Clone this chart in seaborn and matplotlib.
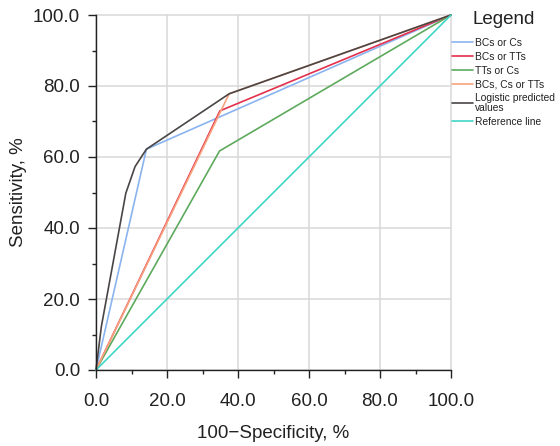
import numpy as np
import pandas as pd
import matplotlib
matplotlib.use("Agg")
import matplotlib.pyplot as plt
from matplotlib.ticker import MultipleLocator, FormatStrFormatter
import seaborn as sns

# ---- data ----
series_names = ["BCs or Cs", "BCs or TTs", "TTs or Cs", "BCs, Cs or TTs",
                "Logistic predicted\nvalues", "Reference line"]

fpr_bcs_cs = [0, 14.2, 100]
tpr_bcs_cs = [0, 62.2, 100]
fpr_bcs_tts = [0, 34.9, 100]
tpr_bcs_tts = [0, 73.0, 100]
fpr_tts_cs = [0, 34.8, 100]
tpr_tts_cs = [0, 61.7, 100]
fpr_all = [0, 37.5, 100]
tpr_all = [0, 77.8, 100]
fpr_logit = [0, 1.5, 8.4, 11.0, 14.2, 37.5, 100]
tpr_logit = [0, 12.2, 49.8, 57.3, 62.2, 77.8, 100]
fpr_ref = [0, 100]
tpr_ref = [0, 100]

colors = ["#8ab4ef", "#e3304c", "#5daa5d", "#f8a27e", "#4a4646", "#3fd6c6"]

xy = [(fpr_bcs_cs, tpr_bcs_cs), (fpr_bcs_tts, tpr_bcs_tts), (fpr_tts_cs, tpr_tts_cs),
      (fpr_all, tpr_all), (fpr_logit, tpr_logit), (fpr_ref, tpr_ref)]

rows = []
for name, (xs, ys) in zip(series_names, xy):
    for order, (a, b) in enumerate(zip(xs, ys)):
        rows.append({"fpr": a, "tpr": b, "series": name, "order": order})
df = pd.DataFrame(rows)

sns.set_style("white")
plt.rcParams["font.family"] = ["Liberation Sans", "DejaVu Sans"]
plt.rcParams["text.color"] = "#222222"
plt.rcParams["axes.labelcolor"] = "#222222"
plt.rcParams["xtick.color"] = "#222222"
plt.rcParams["ytick.color"] = "#222222"

fig = plt.figure(figsize=(5.6, 4.46), dpi=100)
ax = fig.add_axes([96 / 560, 1 - 370 / 446, 355 / 560, 355 / 446])

sns.lineplot(data=df, x="fpr", y="tpr", hue="series", hue_order=series_names,
             palette=colors, sort=False, estimator=None, units="series",
             linewidth=1.2, ax=ax, legend=True)

for ln in ax.get_lines():
    ln.set_clip_on(False)

ax.set_xlim(0, 100)
ax.set_ylim(0, 100)
ax.xaxis.set_major_locator(MultipleLocator(20))
ax.yaxis.set_major_locator(MultipleLocator(20))
ax.xaxis.set_minor_locator(MultipleLocator(10))
ax.yaxis.set_minor_locator(MultipleLocator(10))
ax.xaxis.set_major_formatter(FormatStrFormatter("%.1f"))
ax.yaxis.set_major_formatter(FormatStrFormatter("%.1f"))

ax.grid(True, which="major", color="#d9d9d9", linewidth=1.1)
ax.set_axisbelow(True)
for gl in ax.get_xgridlines() + ax.get_ygridlines():
    gl.set_clip_on(False)

for s in ["top", "right"]:
    ax.spines[s].set_visible(False)
for s in ["left", "bottom"]:
    ax.spines[s].set_color("#222222")
    ax.spines[s].set_linewidth(1.0)

ax.tick_params(which="major", direction="out", length=5.5, width=1.0, labelsize=13.5,
               left=True, bottom=True)
ax.tick_params(axis="x", which="major", pad=11)
ax.tick_params(axis="y", which="major", pad=6)
ax.tick_params(which="minor", direction="out", length=3, width=1.0, left=True, bottom=True)

ax.set_xlabel("100\u2212Specificity, %", fontsize=13.5)
ax.set_ylabel("Sensitivity, %", fontsize=13.5)
ax.xaxis.set_label_coords(0.5, -0.155)
ax.yaxis.set_label_coords(-0.195, 0.5)

handles, labels = ax.get_legend_handles_labels()
if ax.legend_:
    ax.legend_.remove()
leg = fig.legend(handles, labels, loc="upper left",
                 bbox_to_anchor=(452 / 560, 1 - 38 / 446), frameon=False,
                 fontsize=7.4, handlelength=2.0, handletextpad=0.2,
                 labelspacing=0.37, borderpad=0, borderaxespad=0)
for t in leg.get_texts():
    t.set_linespacing(0.95)
for h in leg.get_lines():
    h.set_linewidth(1.2)

fig.text(473 / 560, 1 - 20 / 446, "Legend", fontsize=13.5, va="center", ha="left")

fig.savefig("out.png", dpi=100)
